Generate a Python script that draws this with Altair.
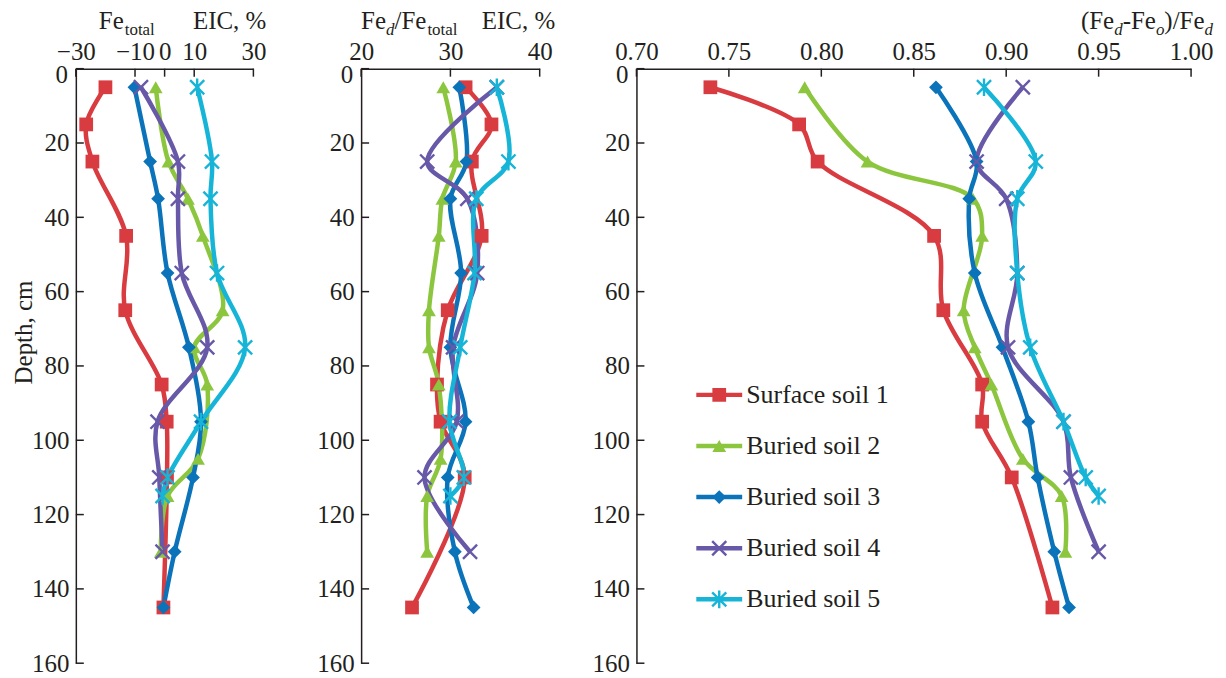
import altair as alt
import pandas as pd

SERIES = ["Surface soil 1", "Buried soil 2", "Buried soil 3", "Buried soil 4", "Buried soil 5"]
COLORS = ["#d93c40", "#8cc63f", "#0a73ba", "#6858a8", "#16b5d8"]

DEPTH_1 = [5, 15, 25, 45, 65, 85, 95, 110, 145]
DEPTH_2 = [5, 25, 35, 45, 65, 75, 85, 105, 115, 130]
DEPTH_3 = [5, 25, 35, 55, 75, 95, 110, 130, 145]
DEPTH_4 = [5, 25, 35, 55, 75, 95, 110, 130]
DEPTH_5 = [5, 25, 35, 55, 75, 95, 110, 115]

# Fe_total EIC, %
EIC_1 = [-20, -26.5, -24.4, -13, -13.3, -1, 0.7, 0.8, -0.4]
EIC_2 = [-3, 1.3, 7.9, 12.9, 19.6, 10.0, 14.4, 11.3, 1, -1.3]
EIC_3 = [-10.2, -4.9, -2.2, 1, 8.2, 12.3, 9.6, 3.4, -0.4]
EIC_4 = [-8, 4.5, 4.5, 5.8, 14.4, -2.4, -1.8, -0.7]
EIC_5 = [11, 16, 15.5, 17.7, 27.2, 12.3, 1, -0.7]

# Fe_d/Fe_total EIC, %
RAT_1 = [31.7, 34.6, 32.4, 33.5, 29.7, 28.5, 28.9, 31.6, 25.7]
RAT_2 = [29.2, 30.6, 29.1, 28.7, 27.6, 27.6, 28.7, 28.9, 27.4, 27.4]
RAT_3 = [31.0, 31.8, 30.0, 31.2, 30.0, 31.7, 29.7, 30.5, 32.6]
RAT_4 = [35.2, 27.4, 31.9, 33.0, 30.3, 30.7, 27.1, 32.2]
RAT_5 = [35.2, 36.5, 32.9, 32.7, 31.1, 29.9, 31.5, 30.0]

# (Fe_d - Fe_o)/Fe_d
CRY_1 = [0.740, 0.788, 0.798, 0.861, 0.866, 0.887, 0.887, 0.903, 0.925]
CRY_2 = [0.791, 0.825, 0.882, 0.887, 0.877, 0.883, 0.892, 0.909, 0.930, 0.932]
CRY_3 = [0.862, 0.884, 0.880, 0.883, 0.898, 0.912, 0.917, 0.926, 0.934]
CRY_4 = [0.909, 0.884, 0.900, 0.906, 0.901, 0.931, 0.935, 0.950]
CRY_5 = [0.888, 0.916, 0.906, 0.906, 0.913, 0.931, 0.943, 0.950]

DEPTH_TICKS = [0, 20, 40, 60, 80, 100, 120, 140, 160]
DEPTH_LABELS = [20, 40, 60, 80, 100, 120, 140, 160]
EIC_TICKS = [-30, -10, 0, 10, 30]
RAT_TICKS = [20, 30, 40]
CRY_TICKS = [0.70, 0.75, 0.80, 0.85, 0.90, 0.95, 1.00]

DEPTHS = [DEPTH_1, DEPTH_2, DEPTH_3, DEPTH_4, DEPTH_5]

FONT = "Liberation Serif, Times New Roman, serif"
INK = "#231f20"
BIG = 25
SMALL = 17

# Times / Liberation Serif advance widths (per 1000 em) for the title glyphs
ADV = {"F": 556, "e": 444, "t": 278, "o": 500, "a": 444, "l": 278, "E": 611,
       "I": 333, "C": 667, ",": 250, " ": 250, "%": 833, "d": 500, "/": 278,
       "(": 333, ")": 333, "-": 333}


def text_width(s, size):
    return sum(ADV.get(c, 500) for c in s) * size / 1000.0


def frame(values):
    rows = []
    for name, dep, val in zip(SERIES, DEPTHS, values):
        for d, v in zip(dep, val):
            rows.append({"series": name, "depth": d, "value": v})
    return pd.DataFrame(rows)


cscale = alt.Scale(domain=SERIES, range=COLORS)
shape_pts = alt.Scale(
    domain=SERIES,
    range=[
        "square",
        "triangle-up",
        "diamond",
        "M-1,-1L1,1M-1,1L1,-1",
        "M-1,-1L1,1M-1,1L1,-1M0,-1.25L0,1.25",
    ],
)


def piece(text, x, y, size, italic=False, align="left"):
    return alt.Chart(pd.DataFrame({"t": [text]})).mark_text(
        align=align, baseline="alphabetic", font=FONT, fontSize=size,
        fontStyle="italic" if italic else "normal", color=INK,
    ).encode(text="t:N", x=alt.value(x), y=alt.value(y))


def chain(parts, x0, base_y=-40, sub_y=-34):
    """parts: list of (text, is_sub, italic, gap_before)."""
    out = []
    x = x0
    for text, sub, italic, gap in parts:
        x += gap
        size = SMALL if sub else BIG
        out.append(piece(text, x, sub_y if sub else base_y, size, italic))
        x += text_width(text, size)
    return out


def panel(values, domain, ticks, fmt, width, titles, ytitle, legend=False):
    df = frame(values)
    xs = alt.Scale(domain=domain, nice=False, zero=False)
    ys = alt.Scale(domain=[0, 160], reverse=True, nice=False, zero=False)
    xaxis = alt.Axis(orient="top", values=ticks, format=fmt, title=None, labelPadding=4)
    if ytitle:
        yaxis = alt.Axis(values=DEPTH_LABELS, title=ytitle, titleX=-39, titleY=264,
                         titleAngle=-90, titleAlign="center", titleBaseline="bottom")
    else:
        yaxis = alt.Axis(values=DEPTH_LABELS, title=None)
    X = alt.X("value:Q", scale=xs, axis=xaxis)
    Y = alt.Y("depth:Q", scale=ys, axis=yaxis)
    C = alt.Color("series:N", scale=cscale, legend=None)
    S = alt.Shape("series:N", scale=shape_pts, legend=None)
    base = alt.Chart(df)
    lines = base.mark_line(interpolate="catmull-rom", strokeWidth=4.5).encode(
        x=X, y=Y, color=C, order=alt.Order("depth:Q"),
    )
    filled = base.transform_filter(
        alt.FieldOneOfPredicate(field="series", oneOf=SERIES[:3])
    ).mark_point(filled=True, opacity=1, size=190).encode(x=X, y=Y, color=C, shape=S)
    crosses = base.transform_filter(
        alt.FieldOneOfPredicate(field="series", oneOf=SERIES[3:])
    ).mark_point(filled=False, opacity=1, size=200, strokeWidth=2.4).encode(
        x=X, y=Y, color=C, shape=S)
    xt = alt.Chart(pd.DataFrame({"value": ticks})).mark_rule(color=INK, strokeWidth=1.5).encode(
        x=X, y=alt.value(0), y2=alt.value(8)
    )
    yt = alt.Chart(pd.DataFrame({"depth": DEPTH_TICKS})).mark_rule(color=INK, strokeWidth=1.5).encode(
        y=Y, x=alt.value(0), x2=alt.value(8)
    )
    zero = piece("0", -8, 14, BIG, align="right")
    inner = alt.layer(lines, filled, crosses, xt, yt, zero, *titles)
    ch = inner
    if legend:
        ldf = pd.DataFrame({"series": SERIES})
        LY = alt.Y("series:N", axis=None,
                   scale=alt.Scale(type="point", domain=SERIES, range=[327, 532], padding=0))
        lbase = alt.Chart(ldf)
        l_line = lbase.mark_rule(strokeWidth=4.5).encode(
            y=LY, x=alt.value(60), x2=alt.value(106), color=C)
        l_fill = lbase.transform_filter(
            alt.FieldOneOfPredicate(field="series", oneOf=SERIES[:3])
        ).mark_point(filled=True, opacity=1, size=190).encode(
            y=LY, x=alt.value(83), color=C, shape=S)
        l_cross = lbase.transform_filter(
            alt.FieldOneOfPredicate(field="series", oneOf=SERIES[3:])
        ).mark_point(filled=False, opacity=1, size=200, strokeWidth=2.4).encode(
            y=LY, x=alt.value(83), color=C, shape=S)
        l_text = lbase.mark_text(align="left", baseline="middle", font=FONT, fontSize=26,
                                 color=INK).encode(y=LY, x=alt.value(110), text="series:N")
        ch = alt.layer(inner, l_line, l_fill, l_cross, l_text).resolve_scale(y="independent")
    return ch.properties(width=width, height=596)


t1 = (chain([("Fe", False, False, 0), ("total", True, False, 1)], 23)
      + [piece("EIC, %", 191 - text_width("EIC, %", BIG), -40, BIG)])
t2 = (chain([("Fe", False, False, 0), ("d", True, True, 0), ("/Fe", False, False, 0),
             ("total", True, False, 1)], 0)
      + [piece("EIC, %", 121, -40, BIG)])
p3_parts = [("(Fe", False, False, 0), ("d", True, True, 0), ("-Fe", False, False, 0),
            ("o", True, True, 0), (")/Fe", False, False, 0), ("d", True, True, 0)]
p3_w = sum(text_width(t, SMALL if s else BIG) for t, s, _, _ in p3_parts)
t3 = chain(p3_parts, 578 - p3_w)

p1 = panel([EIC_1, EIC_2, EIC_3, EIC_4, EIC_5], [-30, 30], EIC_TICKS, "d", 178, t1, "Depth, cm")
p2 = panel([RAT_1, RAT_2, RAT_3, RAT_4, RAT_5], [20, 40], RAT_TICKS, "d", 179, t2, None)
p3 = panel([CRY_1, CRY_2, CRY_3, CRY_4, CRY_5], [0.70, 1.00], CRY_TICKS, ".2f", 556, t3, None,
           legend=True)

left_pair = alt.hconcat(p1, p2, spacing=50)
chart = alt.hconcat(left_pair, p3, spacing=36).properties(
    background="white", padding={"left": 4, "top": 0, "right": 5, "bottom": 2}
).configure_view(stroke=None).configure_axis(
    labelFont=FONT, labelFontSize=BIG, labelColor=INK, domainColor=INK, domainWidth=1.5,
    ticks=False, grid=False, labelFlush=False, labelOverlap=False, labelPadding=7,
    titleFont=FONT, titleFontSize=BIG, titleFontWeight="normal", titleColor=INK,
)

chart.save("out.html", embed_options={"renderer": "svg", "actions": False})
